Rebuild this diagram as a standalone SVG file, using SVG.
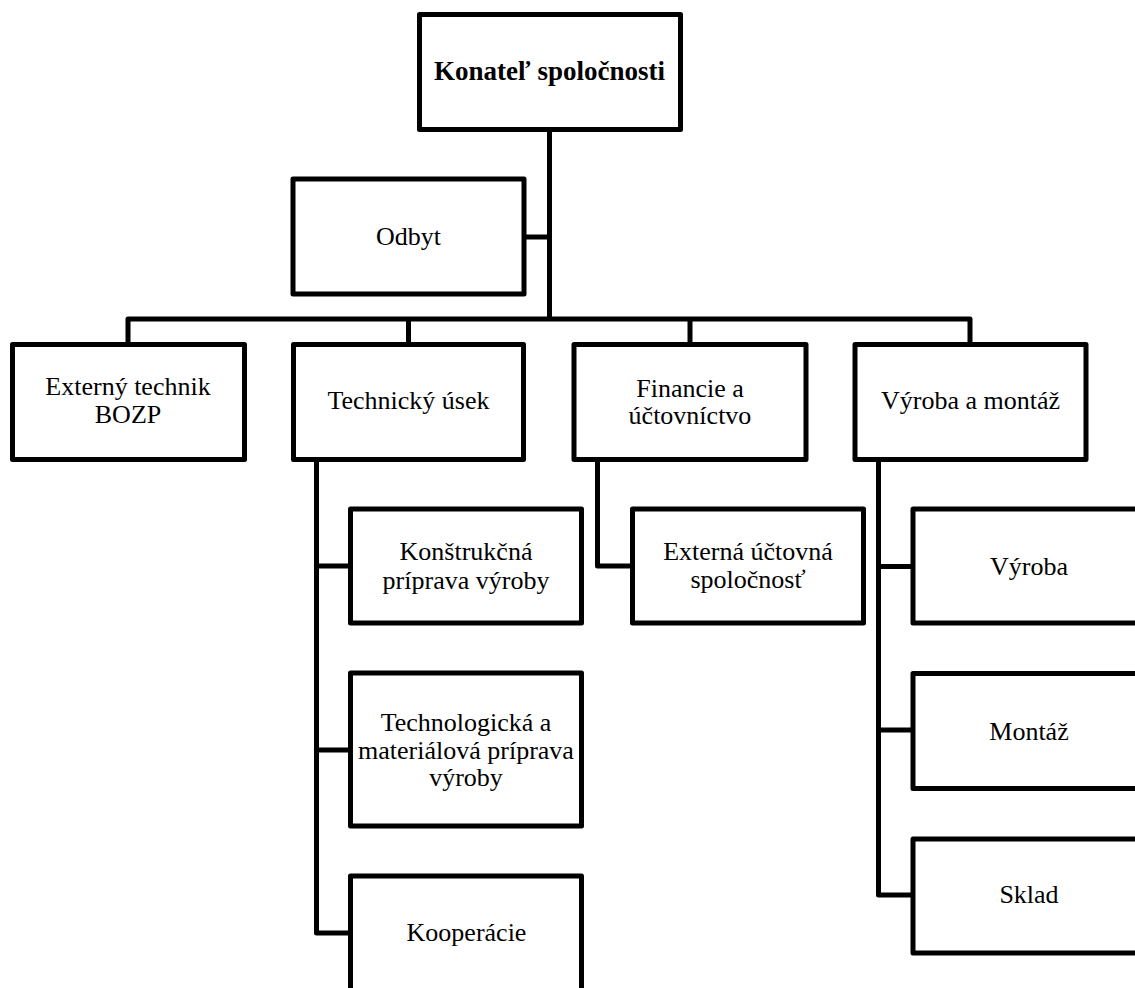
<svg xmlns="http://www.w3.org/2000/svg" width="1135" height="988" viewBox="0 0 1135 988">
  <style>
    .box { fill: #ffffff; stroke: #000000; stroke-width: 5; stroke-linejoin: round; }
    .wire { fill: none; stroke: #000000; stroke-width: 5; stroke-linejoin: round; }
    .lbl { font-family: "Liberation Serif", "Times New Roman", serif; font-size: 26px; fill: #000000; text-anchor: middle; }
    .bold { font-weight: bold; font-size: 27px; }
  </style>
  <rect width="1135" height="988" fill="#ffffff"/>

  <!-- connectors -->
  <g id="connectors">
    <path class="wire" d="M549.5,132 V319"/>
    <path class="wire" d="M524,237 H549.5"/>
    <path class="wire" d="M128,344.5 V319 H970 V344.5"/>
    <path class="wire" d="M408.5,319 V344.5"/>
    <path class="wire" d="M690,319 V344.5"/>
    <!-- technical branch -->
    <path class="wire" d="M316.5,459.5 V933 H350.5"/>
    <path class="wire" d="M316.5,566 H350.5"/>
    <path class="wire" d="M316.5,750 H350.5"/>
    <!-- finance branch -->
    <path class="wire" d="M597.5,459.5 V566 H632.5"/>
    <!-- production branch -->
    <path class="wire" d="M878.5,459.5 V895 H913"/>
    <path class="wire" d="M878.5,566.5 H913"/>
    <path class="wire" d="M878.5,730 H913"/>
  </g>

  <g id="konatel">
    <rect class="box" x="419.5" y="14.5" width="261" height="115"/>
    <text class="lbl bold" x="549.5" y="80">Konateľ spoločnosti</text>
  </g>

  <g id="odbyt">
    <rect class="box" x="293" y="179" width="231" height="115"/>
    <text class="lbl" x="408.5" y="245">Odbyt</text>
  </g>

  <g id="bozp">
    <rect class="box" x="12.5" y="344.5" width="232" height="115"/>
    <text class="lbl" x="128" y="395">Externý technik</text>
    <text class="lbl" x="128" y="423">BOZP</text>
  </g>

  <g id="technicky">
    <rect class="box" x="293.5" y="344.5" width="230" height="115"/>
    <text class="lbl" x="408.5" y="409">Technický úsek</text>
  </g>

  <g id="financie">
    <rect class="box" x="574" y="344.5" width="232" height="115"/>
    <text class="lbl" x="690" y="396.5">Financie  a</text>
    <text class="lbl" x="690" y="424">účtovníctvo</text>
  </g>

  <g id="vyroba-montaz">
    <rect class="box" x="855" y="344.5" width="231" height="115"/>
    <text class="lbl" x="970.5" y="409">Výroba a montáž</text>
  </g>

  <g id="konstrukcna">
    <rect class="box" x="350.5" y="509" width="231" height="114"/>
    <text class="lbl" x="466" y="560">Konštrukčná</text>
    <text class="lbl" x="466" y="589">príprava výroby</text>
  </g>

  <g id="uctovna">
    <rect class="box" x="632.5" y="509" width="231" height="114"/>
    <text class="lbl" x="748" y="560">Externá účtovná</text>
    <text class="lbl" x="748" y="588">spoločnosť</text>
  </g>

  <g id="technologicka">
    <rect class="box" x="350.5" y="673" width="231" height="153"/>
    <text class="lbl" x="466" y="731">Technologická a</text>
    <text class="lbl" x="466" y="759">materiálová príprava</text>
    <text class="lbl" x="466" y="786">výroby</text>
  </g>

  <g id="kooperacie">
    <rect class="box" x="350.5" y="876" width="231" height="200"/>
    <text class="lbl" x="466.5" y="941">Kooperácie</text>
  </g>

  <g id="vyroba">
    <rect class="box" x="913" y="509" width="236" height="114"/>
    <text class="lbl" x="1029" y="575">Výroba</text>
  </g>

  <g id="montaz">
    <rect class="box" x="913" y="673.5" width="236" height="115"/>
    <text class="lbl" x="1029" y="740">Montáž</text>
  </g>

  <g id="sklad">
    <rect class="box" x="913" y="839" width="236" height="114"/>
    <text class="lbl" x="1029" y="903">Sklad</text>
  </g>
</svg>
